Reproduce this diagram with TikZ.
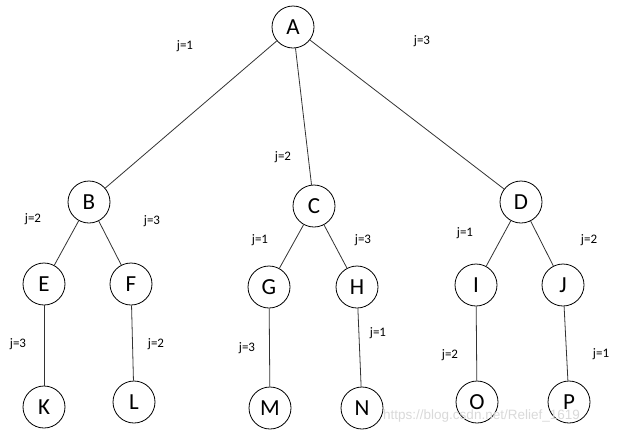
\documentclass[tikz,border=0pt]{standalone}
\usepackage{fontspec}
\setmainfont{Carlito}
\newfontfamily\markfont{Liberation Sans}
\usetikzlibrary{positioning}
\tikzset{
  vert/.style={circle,draw,line width=0.8pt,minimum size=42pt,inner sep=0pt,font=\fontsize{23}{27}\selectfont},
  jlab/.style={font=\fontsize{13}{15}\selectfont,inner sep=0pt},
  tedge/.style={line width=0.8pt,draw=black!80}
}
\begin{document}
\begin{tikzpicture}[x=1pt,y=-1pt]
\useasboundingbox (0,0) rectangle (621,437);
% vertices
\foreach \n/\x/\y in {A/293/27, B/89/202, C/314/206, D/521/202,
    E/44/284, F/131/284, G/269/287, H/357/287, I/476/285, J/563/285,
    K/44/407, L/134/402, M/270/408, N/362/408, O/477/402, P/569/402} {
    \node[vert] (\n) at (\x,\y) {\n};
}
% edges
\foreach \a/\b in {A/B, A/C, A/D, B/E, B/F, C/G, C/H, D/I, D/J,
    E/K, F/L, G/M, H/N, I/O, J/P} {
    \draw[tedge] (\a) -- (\b);
}
% labels
\foreach \i/\x/\y/\t in {1/185/46/j=1, 2/422/41/j=3, 3/283/157/j=2,
    4/33/219/j=2, 5/152/221/j=3, 6/260/240/j=1, 7/363/240/j=3,
    8/465/233/j=1, 9/589/240/j=2, 10/18/344/j=3, 11/156/344/j=2,
    12/247/348/j=3, 13/378/333/j=1, 14/450/355/j=2, 15/601/354/j=1} {
    \node[jlab] (lab\i) at (\x,\y) {\t};
}
\node[font=\fontsize{13.5}{15}\selectfont\markfont,text=black!15,anchor=west,inner sep=0pt] (mark) at (383,416) {https://blog.csdn.net/Relief\_1619};
\end{tikzpicture}
\end{document}
